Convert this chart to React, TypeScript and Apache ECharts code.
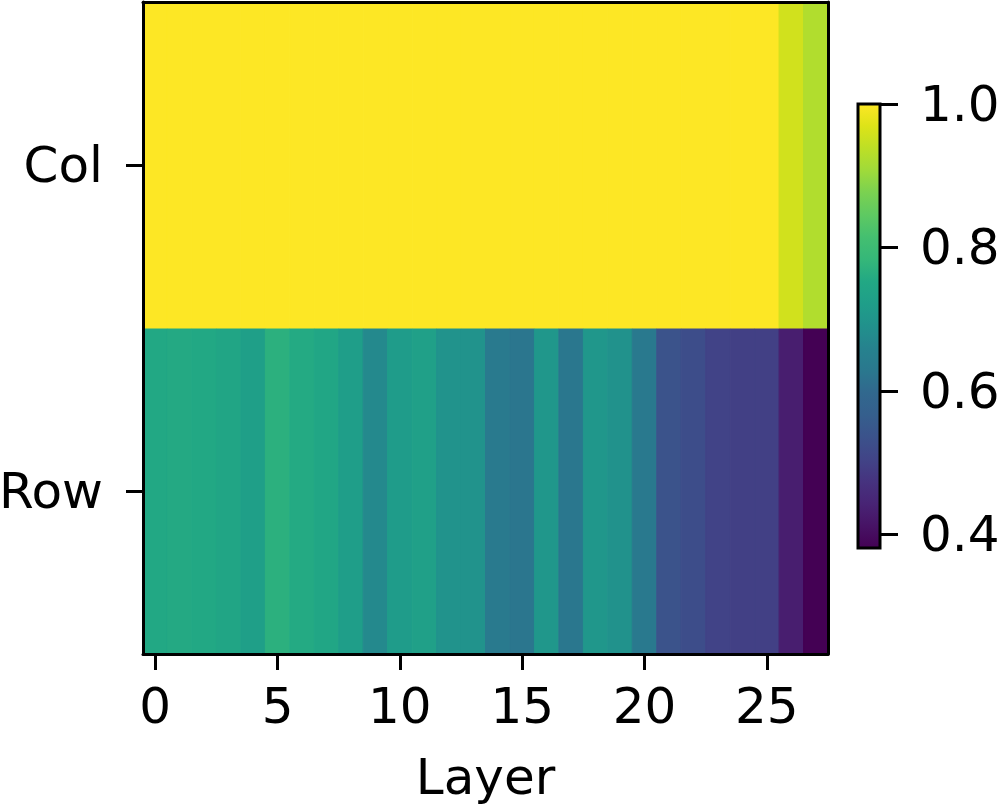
import React, { useEffect, useRef } from "react";
import * as echarts from "echarts";

const layers = ["0","1","2","3","4","5","6","7","8","9","10","11","12","13","14","15","16","17","18","19","20","21","22","23","24","25","26","27"];
const rowNames = ["Row", "Col"];
const colValues = [1,1,1,1,1,1,1,1,1,1,1,1,1,1,1,1,1,1,1,1,1,1,1,1,1,1,0.957,0.926];
const rowValues = [0.752,0.755,0.753,0.744,0.725,0.769,0.756,0.747,0.722,0.673,0.716,0.729,0.695,0.695,0.636,0.624,0.704,0.627,0.704,0.692,0.633,0.537,0.525,0.503,0.497,0.497,0.432,0.381];
const vMin = 0.381;
const vMax = 1.0;
const colorbarTicks = [0.4, 0.6, 0.8, 1.0];
const viridis = ["#440154","#471365","#482475","#46337f","#414487","#3b528b","#355f8d","#31688e","#2a788e","#26828e","#21918c","#1f9e89","#22a884","#35b779","#44bf70","#5ec962","#7ad151","#9fda3a","#bddf26","#dde318","#fde725"];

const FONT = "DejaVu Sans";

export default function App() {
  const ref = useRef<HTMLDivElement>(null);
  useEffect(() => {
    if (!ref.current) return;
    const chart = echarts.init(ref.current, null, { renderer: "svg" });
    const data: number[][] = [];
    rowValues.forEach((v, i) => data.push([i, 0, v]));
    colValues.forEach((v, i) => data.push([i, 1, v]));
    const stops = viridis.map((c, i) => ({ offset: 1 - i / (viridis.length - 1), color: c })).reverse();
    const showEvery5 = (idx: number) => idx % 5 === 0;
    chart.setOption({
      animation: false,
      backgroundColor: "#ffffff",
      grid: [
        { left: 143, top: 2, width: 685, height: 652, show: false, outerBoundsMode: "none", containLabel: false },
        { left: 858, top: 104, width: 22, height: 444, show: false, outerBoundsMode: "none", containLabel: false },
      ],
      visualMap: {
        show: false,
        type: "continuous",
        min: vMin,
        max: vMax,
        dimension: 2,
        seriesIndex: 0,
        inRange: { color: viridis },
      },
      xAxis: [
        {
          type: "category",
          gridIndex: 0,
          data: layers,
          position: "bottom",
          z: 5,
          axisLine: { show: true, onZero: false, lineStyle: { color: "#000", width: 3 } },
          axisTick: { show: true, alignWithLabel: true, interval: showEvery5, length: 16, lineStyle: { color: "#000", width: 3 } },
          axisLabel: { show: true, interval: showEvery5, margin: 27, fontSize: 50, fontFamily: FONT, color: "#000" },
          splitLine: { show: false },
          name: "Layer",
          nameLocation: "middle",
          nameGap: 98,
          nameTextStyle: { fontSize: 50, fontFamily: FONT, color: "#000" },
        },
        {
          type: "category",
          gridIndex: 0,
          data: layers,
          position: "top",
          z: 5,
          axisLine: { show: true, onZero: false, lineStyle: { color: "#000", width: 3 } },
          axisTick: { show: false },
          axisLabel: { show: false },
          splitLine: { show: false },
        },
        {
          type: "value",
          gridIndex: 1,
          min: 0,
          max: 1,
          show: false,
          axisLine: { onZero: false },
        },
      ],
      yAxis: [
        {
          type: "category",
          gridIndex: 0,
          data: rowNames,
          position: "left",
          z: 5,
          axisLine: { show: true, onZero: false, lineStyle: { color: "#000", width: 3 } },
          axisTick: { show: true, alignWithLabel: true, length: 17, lineStyle: { color: "#000", width: 3 } },
          axisLabel: { show: true, margin: 40, fontSize: 50, fontFamily: FONT, color: "#000" },
          splitLine: { show: false },
        },
        {
          type: "category",
          gridIndex: 0,
          data: rowNames,
          position: "right",
          z: 5,
          axisLine: { show: true, onZero: false, lineStyle: { color: "#000", width: 3 } },
          axisTick: { show: false },
          axisLabel: { show: false },
          splitLine: { show: false },
        },
        {
          type: "value",
          gridIndex: 1,
          position: "right",
          min: vMin,
          max: vMax,
          z: 6,
          axisLine: { show: false, onZero: false },
          axisTick: { show: true, customValues: colorbarTicks, length: 18, lineStyle: { color: "#000", width: 3 } },
          axisLabel: {
            show: true,
            customValues: colorbarTicks,
            margin: 40,
            fontSize: 50,
            fontFamily: FONT,
            color: "#000",
            formatter: (v: number) => v.toFixed(1),
          },
          splitLine: { show: false },
        },
      ],
      series: [
        {
          type: "custom",
          xAxisIndex: 0,
          yAxisIndex: 0,
          data,
          encode: { x: 0, y: 1 },
          renderItem: (params: any, api: any) => {
            const c = api.coord([api.value(0), api.value(1)]);
            const s = api.size([1, 1]);
            const color = api.visual("color");
            return {
              type: "rect",
              shape: { x: c[0] - s[0] / 2, y: c[1] - s[1] / 2, width: s[0], height: s[1] },
              style: { fill: color, stroke: color, lineWidth: 1 },
            };
          },
          z: 2,
        },
        {
          type: "custom",
          xAxisIndex: 2,
          yAxisIndex: 2,
          data: [[0, vMin, 1, vMax]],
          encode: { x: [0, 2], y: [1, 3] },
          renderItem: (params: any, api: any) => {
            const a = api.coord([api.value(0), api.value(3)]);
            const b = api.coord([api.value(2), api.value(1)]);
            return {
              type: "rect",
              shape: { x: a[0], y: a[1], width: b[0] - a[0], height: b[1] - a[1] },
              style: {
                fill: new echarts.graphic.LinearGradient(0, 0, 0, 1, stops),
                stroke: "#000",
                lineWidth: 3,
              },
            };
          },
          z: 3,
        },
      ],
    });
    return () => chart.dispose();
  }, []);
  return <div ref={ref} style={{ position: "fixed", left: 0, top: 0, width: 999, height: 809 }} />;
}
